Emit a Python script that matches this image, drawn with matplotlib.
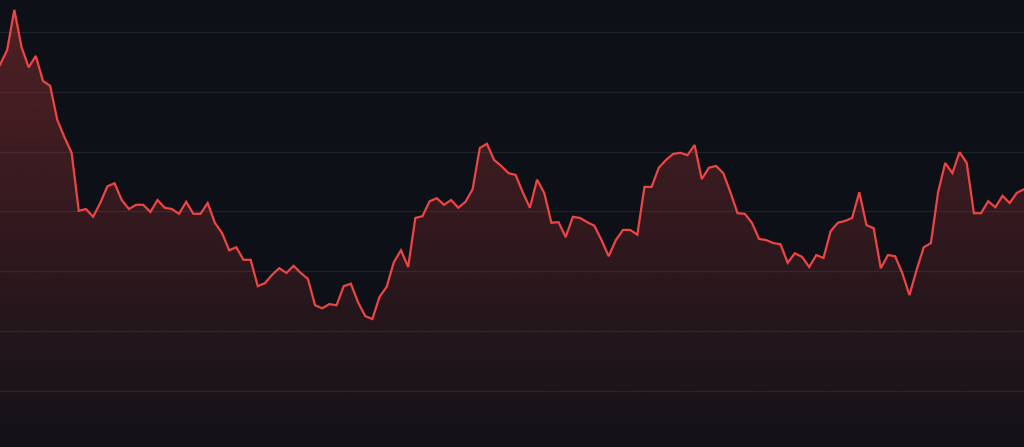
import numpy as np
import matplotlib
matplotlib.use("Agg")
import matplotlib.pyplot as plt
from matplotlib.colors import to_rgb

# Series values
values = [
    64.5, 67.0, 73.7, 67.5, 64.1, 66.0, 61.8, 61.0, 55.3, 52.4,
    49.8, 40.1, 40.4, 39.1, 41.4, 44.2, 44.7, 41.9, 40.4, 41.1,
    41.1, 39.9, 41.9, 40.6, 40.4, 39.6, 41.6, 39.6, 39.6, 41.4,
    38.1, 36.4, 33.5, 34.0, 31.9, 31.9, 27.5, 28.0, 29.4, 30.5,
    29.7, 30.9, 29.7, 28.7, 24.3, 23.8, 24.5, 24.3, 27.5, 27.9,
    24.8, 22.5, 22.0, 25.7, 27.4, 31.5, 33.5, 30.7, 38.9, 39.2,
    41.7, 42.2, 41.1, 41.9, 40.6, 41.6, 43.7, 50.6, 51.3, 48.6,
    47.6, 46.4, 46.1, 43.2, 40.6, 45.3, 43.1, 38.1, 38.2, 35.7,
    39.1, 38.9, 38.2, 37.6, 35.2, 32.5, 35.2, 36.9, 36.9, 36.1,
    44.1, 44.1, 47.3, 48.6, 49.6, 49.8, 49.4, 51.1, 45.4, 47.3,
    47.6, 46.4, 43.2, 39.7, 39.6, 38.1, 35.4, 35.2, 34.7, 34.5,
    31.4, 33.0, 32.4, 30.7, 32.7, 32.2, 36.7, 38.1, 38.4, 38.9,
    43.2, 37.7, 37.2, 30.5, 32.7, 32.5, 29.7, 26.0, 30.2, 34.0,
    34.7, 43.2, 48.1, 46.4, 49.9, 48.1, 39.7, 39.7, 41.7, 40.7,
    42.6, 41.4, 43.1, 43.7,
]
grid_levels = [10, 20, 30, 40, 50, 60, 70]

BG = "#0d1117"
LINE = "#ef4444"
GRID = "#1d222c"

x = np.arange(len(values))
y = np.array(values)

fig = plt.figure(figsize=(10.24, 4.47), dpi=100, facecolor=BG)
ax = fig.add_axes([0, 0, 1, 1])
ax.set_facecolor(BG)
ax.set_xlim(0, len(values) - 1)
ymin, ymax = 0.6, 75.35
ax.set_ylim(ymin, ymax)

for g in grid_levels:
    ax.axhline(g, color=GRID, linewidth=0.9, zorder=1)

# gradient fill clipped to area under line
r, g_, b = to_rgb(LINE)
n = 256
alpha = np.linspace(0.03, 0.30, n).reshape(n, 1)
grad = np.zeros((n, 1, 4))
grad[..., 0] = r
grad[..., 1] = g_
grad[..., 2] = b
grad[..., 3] = alpha
top = y.max()
im = ax.imshow(grad, aspect="auto", origin="lower",
               extent=[0, len(values) - 1, ymin, top], zorder=2,
               interpolation="bilinear")
poly = ax.fill_between(x, y, ymin, facecolor="none", edgecolor="none")
im.set_clip_path(poly.get_paths()[0], transform=ax.transData)

ax.plot(x, y, color=LINE, linewidth=1.6, zorder=3, solid_joinstyle="miter")

for s in ax.spines.values():
    s.set_visible(False)
ax.set_xticks([])
ax.set_yticks([])

fig.savefig("out.png", dpi=100, facecolor=BG)
